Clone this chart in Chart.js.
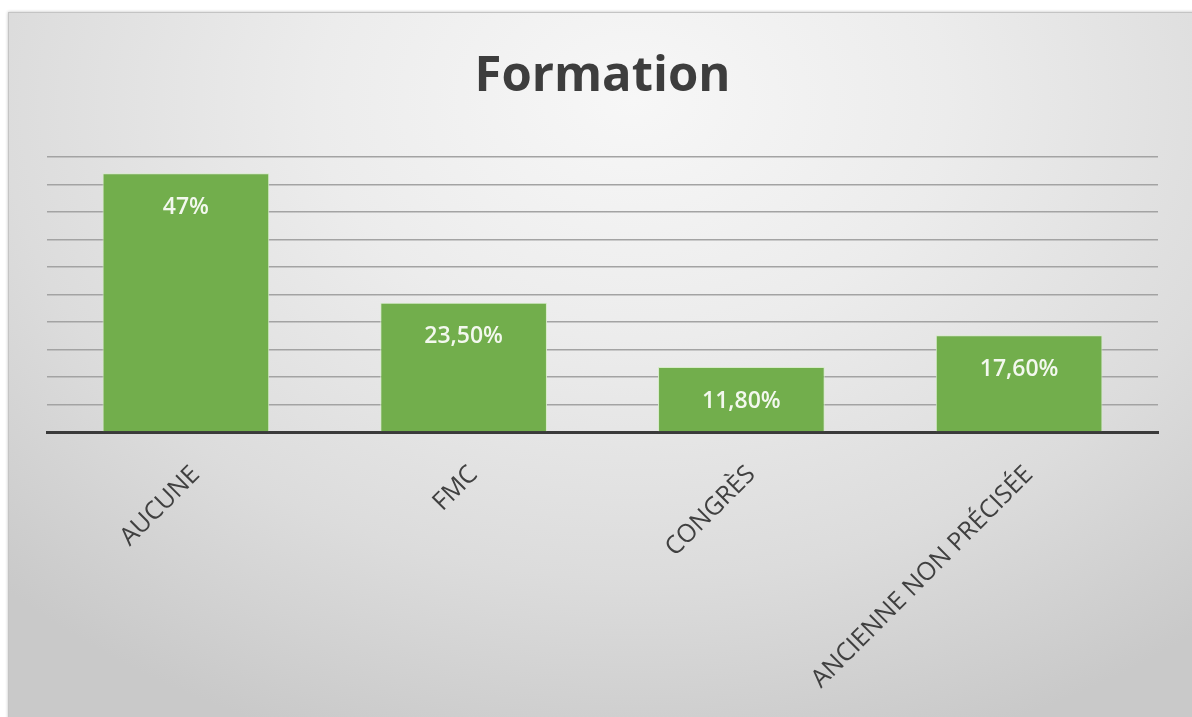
<!DOCTYPE html>
<html>
<head>
<meta charset="utf-8">
<script src="https://cdn.jsdelivr.net/npm/chart.js@4"></script>
<style>
  html, body { margin: 0; padding: 0; background: #ffffff; overflow: hidden; }
  #frame {
    position: absolute; left: 8px; top: 12px; width: 1200px; height: 720px;
    border: 1px solid #c4c4c4;
    box-shadow: 0 0 3px rgba(0,0,0,0.25);
    background: radial-gradient(ellipse 75% 95% at 52% 12%, #f7f7f7 0%, #ececec 35%, #dcdcdc 70%, #c9c9c9 100%);
  }
  #wrap { position: absolute; left: 0; top: 0; width: 1192px; height: 717px; }
</style>
</head>
<body>
<div id="frame"></div>
<div id="wrap"><canvas id="formationChart"></canvas></div>
<script>
// Formation chart data
const categories = ['AUCUNE', 'FMC', 'CONGRÈS', 'ANCIENNE NON PRÉCISÉE'];
const values = [47, 23.5, 11.8, 17.6];
const valueLabels = ['47%', '23,50%', '11,80%', '17,60%'];

// white value labels inside the top of each bar
const barLabels = {
    id: 'barLabels',
    afterDatasetsDraw(chart) {
        const ctx = chart.ctx;
        const meta = chart.getDatasetMeta(0);
        ctx.save();
        ctx.fillStyle = '#f3f8ee';
        ctx.font = '600 23px "Open Sans"';
        ctx.textAlign = 'center';
        ctx.textBaseline = 'middle';
        meta.data.forEach((bar, i) => {
            ctx.fillText(valueLabels[i], bar.x, bar.y + 34);
        });
        ctx.restore();
    }
};

const ctx = document.getElementById('formationChart').getContext('2d');
const formationChart = new Chart(ctx, {
    type: 'bar',
    data: {
        labels: categories,
        datasets: [{
            label: 'Formation',
            data: values,
            backgroundColor: '#72ae4c',
            borderColor: '#d6ecc8',
            borderWidth: { left: 1, right: 1, top: 1, bottom: 0 },
            barPercentage: 1,
            categoryPercentage: 0.6
        }]
    },
    options: {
        responsive: true,
        maintainAspectRatio: false,
        animation: false,
        layout: { padding: { top: 48, left: 47, right: 34, bottom: 0 } },
        plugins: {
            legend: { display: false },
            tooltip: { enabled: false },
            title: {
                display: true,
                text: 'Formation',
                color: '#3d3d3d',
                font: { family: 'Open Sans', size: 49, weight: 'bold' },
                padding: { top: 0, bottom: 50 }
            }
        },
        scales: {
            x: {
                grid: { display: false, drawTicks: false },
                border: { display: true, color: '#3a3a3a', width: 3 },
                ticks: {
                    color: '#404040',
                    font: { family: 'Open Sans', size: 25 },
                    maxRotation: 45,
                    minRotation: 45,
                    padding: 28,
                    labelOffset: 10
                },
                afterFit(scale) { scale.height = 285; }
            },
            y: {
                min: 0,
                max: 50,
                ticks: { display: false, stepSize: 5 },
                grid: { color: '#a3a3a3', lineWidth: 1.5, drawTicks: false },
                border: { display: false },
                afterFit(scale) { scale.width = 0; }
            }
        }
    },
    plugins: [barLabels]
});
</script>
</body>
</html>
